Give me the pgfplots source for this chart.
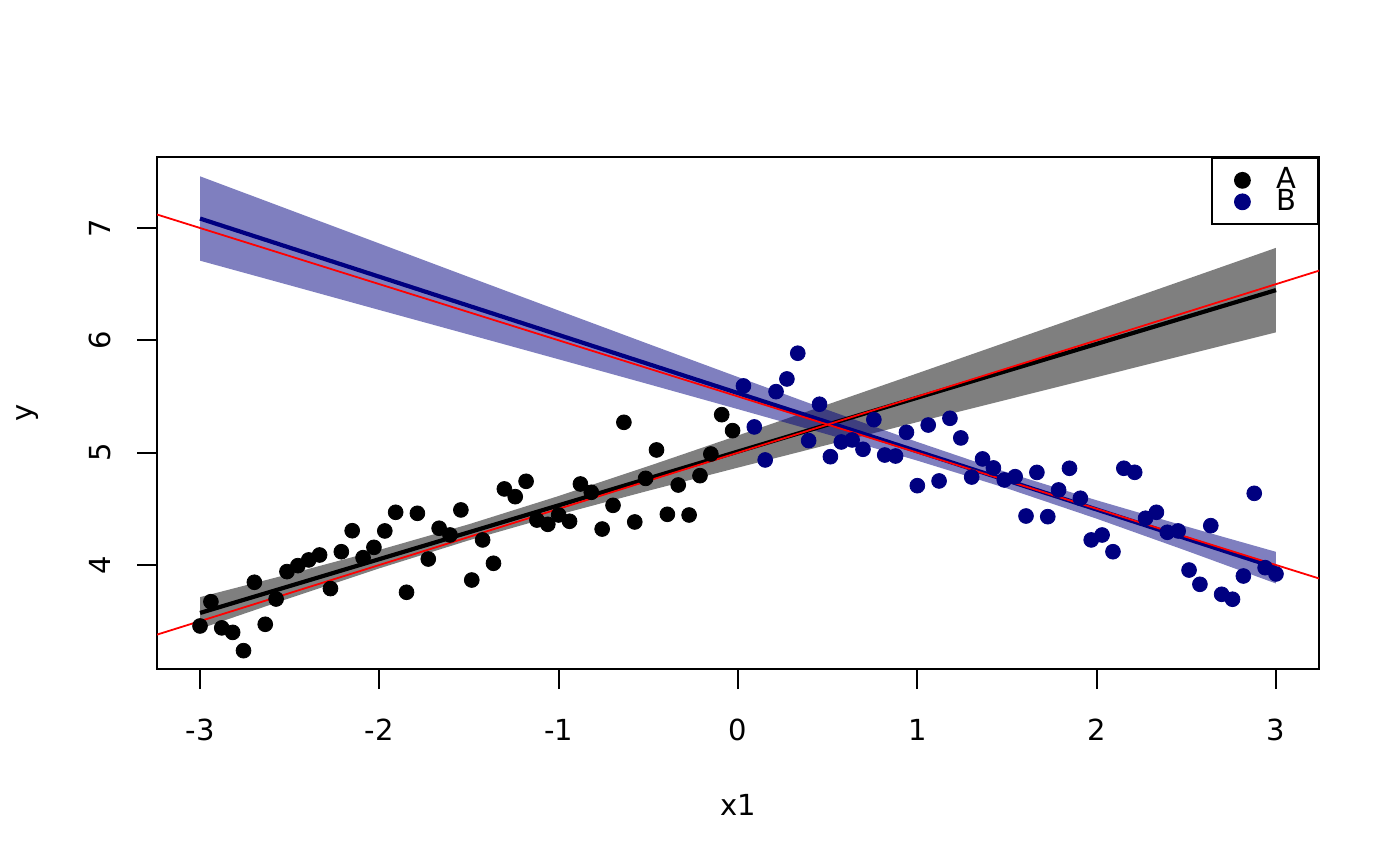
\documentclass[border=0pt]{standalone}
\usepackage{pgfplots}
\pgfplotsset{compat=1.18}
\usepackage{pgfplotstable}
\usepackage{fontspec}
\setmainfont{DejaVu Sans}
\definecolor{rnavy}{RGB}{0,0,128}
\definecolor{rred}{RGB}{255,0,0}

\pgfplotstableread{
x y
-3.0000 3.457
-2.9394 3.673
-2.8788 3.440
-2.8182 3.400
-2.7576 3.237
-2.6970 3.846
-2.6364 3.472
-2.5758 3.697
-2.5152 3.941
-2.4545 3.994
-2.3939 4.045
-2.3333 4.089
-2.2727 3.790
-2.2121 4.118
-2.1515 4.305
-2.0909 4.065
-2.0303 4.157
-1.9697 4.303
-1.9091 4.469
-1.8485 3.757
-1.7879 4.460
-1.7273 4.053
-1.6667 4.327
-1.6061 4.267
-1.5455 4.490
-1.4848 3.866
-1.4242 4.223
-1.3636 4.015
-1.3030 4.677
-1.2424 4.608
-1.1818 4.745
-1.1212 4.400
-1.0606 4.362
-1.0000 4.445
-0.9394 4.389
-0.8788 4.721
-0.8182 4.647
-0.7576 4.320
-0.6970 4.531
-0.6364 5.270
-0.5758 4.383
-0.5152 4.771
-0.4545 5.024
-0.3939 4.451
-0.3333 4.712
-0.2727 4.445
-0.2121 4.795
-0.1515 4.988
-0.0909 5.338
-0.0303 5.196
}\dataA

\pgfplotstableread{
x y
0.0303 5.594
0.0909 5.229
0.1515 4.935
0.2121 5.543
0.2727 5.656
0.3333 5.885
0.3939 5.107
0.4545 5.431
0.5152 4.964
0.5758 5.095
0.6364 5.113
0.6970 5.030
0.7576 5.294
0.8182 4.979
0.8788 4.970
0.9394 5.181
1.0000 4.706
1.0606 5.246
1.1212 4.748
1.1818 5.306
1.2424 5.131
1.3030 4.783
1.3636 4.944
1.4242 4.864
1.4848 4.757
1.5455 4.786
1.6061 4.436
1.6667 4.824
1.7273 4.430
1.7879 4.668
1.8485 4.861
1.9091 4.594
1.9697 4.223
2.0303 4.267
2.0909 4.118
2.1515 4.861
2.2121 4.825
2.2727 4.416
2.3333 4.469
2.3939 4.291
2.4545 4.303
2.5152 3.955
2.5758 3.828
2.6364 4.350
2.6970 3.739
2.7576 3.695
2.8182 3.902
2.8788 4.638
2.9394 3.976
3.0000 3.920
}\dataB

\begin{document}
\fontsize{14.5}{17}\selectfont
\begin{tikzpicture}
\useasboundingbox (0,0) rectangle (700pt,433pt);
\begin{axis}[
  at={(78.5pt,98.5pt)}, anchor=south west,
  scale only axis, width=581pt, height=256pt,
  xmin=-3.24, xmax=3.24, ymin=3.074, ymax=7.632,
  xtick={-3,-2,-1,0,1,2,3}, xticklabels={-3,-2,-1,0,1,2,3},
  ytick={4,5,6,7}, yticklabels={4,5,6,7},
  xtick pos=bottom, ytick pos=left,
  tick align=outside, major tick length=10pt,
  axis line style={line width=0.9pt},
  every tick/.style={black, line width=0.9pt},
  tick label style={font=\fontsize{14.5}{17}\selectfont},
  xticklabel shift=10pt,
  yticklabel style={rotate=90, anchor=south},
  yticklabel shift=8pt,
  xlabel={x1}, ylabel={y},
  xlabel style={at={(axis description cs:0.5,-0.2656)}, anchor=center, font=\fontsize{14.5}{17}\selectfont},
  ylabel style={at={(axis description cs:-0.111,0.5)}, anchor=center, font=\fontsize{14.5}{17}\selectfont},
  legend style={at={(1,1)}, anchor=north east, draw=black, line width=0.9pt, fill=white,
    inner xsep=11pt, inner ysep=4.85pt, row sep=-2pt, column sep=12.7pt,
    nodes={inner sep=0pt, font=\fontsize{14.5}{17}\selectfont}},
  legend cell align=left,
  legend image code/.code={\fill[#1] (0pt,0pt) circle (3.75pt);},
]
% band A (grey)
\addplot[fill=black, fill opacity=0.5, draw=none, forget plot] coordinates {
(-3,3.714) (-2.5,3.920) (-2,4.134) (-1.5,4.363) (-1,4.614) (-0.5,4.880) (0,5.153)
(0.5,5.429) (1,5.706) (1.5,5.985) (2,6.264) (2.5,6.543) (3,6.823)
(3,6.071) (2.5,5.872) (2,5.672) (1.5,5.472) (1,5.272) (0.5,5.070) (0,4.867)
(-0.5,4.661) (-1,4.448) (-1.5,4.220) (-2,3.970) (-2.5,3.705) (-3,3.432)
} -- cycle;
% band B (navy)
\addplot[fill=rnavy, fill opacity=0.5, draw=none, forget plot] coordinates {
(-3,7.460) (-2.5,7.161) (-2,6.862) (-1.5,6.563) (-1,6.265) (-0.5,5.968) (0,5.673)
(0.5,5.380) (1,5.095) (1.5,4.824) (2,4.576) (2.5,4.343) (3,4.117)
(3,3.835) (2.5,4.127) (2,4.412) (1.5,4.682) (1,4.929) (0.5,5.162) (0,5.387)
(-0.5,5.610) (-1,5.831) (-1.5,6.051) (-2,6.270) (-2.5,6.490) (-3,6.709)
} -- cycle;
% fitted lines
\addplot[black, line width=2.1pt, forget plot] coordinates {(-3,3.573) (3,6.447)};
\addplot[rnavy, line width=2.1pt, forget plot] coordinates {(-3,7.084) (3,3.976)};
% points
\addplot[only marks, mark=*, mark size=3.7pt, color=black] table[x=x,y=y] {\dataA};
\addlegendentry{A}
\addplot[only marks, mark=*, mark size=3.7pt, color=rnavy] table[x=x,y=y] {\dataB};
\addlegendentry{B}
% true lines
\addplot[rred, line width=0.9pt, forget plot] coordinates {(-3.5,3.25) (3.5,6.75)};
\addplot[rred, line width=0.9pt, forget plot] coordinates {(-3.5,7.25) (3.5,3.75)};
\end{axis}
\end{tikzpicture}
\end{document}
